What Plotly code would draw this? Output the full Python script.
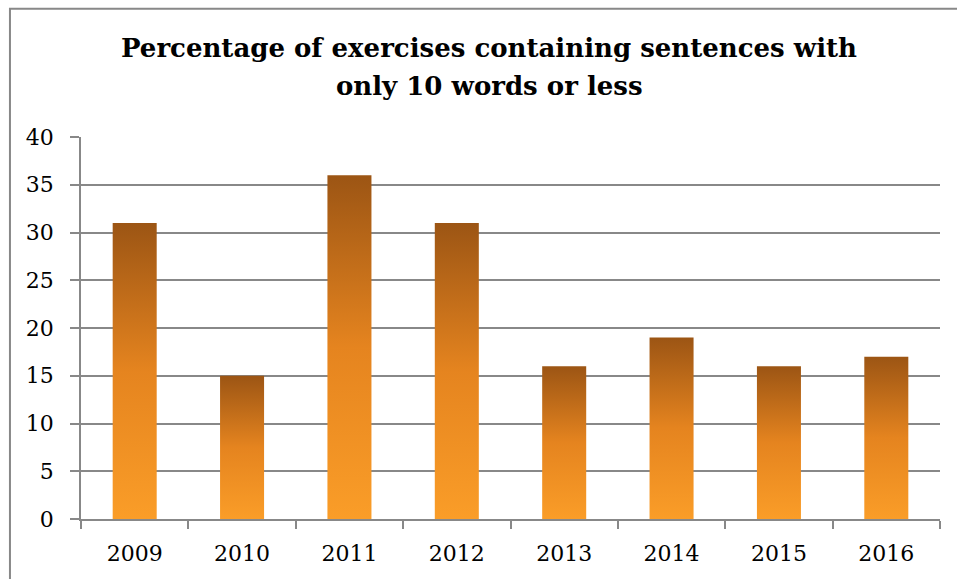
import plotly.graph_objects as go

# Share of exercises whose sentences are all 10 words or shorter, per year
years = ["2009", "2010", "2011", "2012", "2013", "2014", "2015", "2016"]
percent = [31, 15, 36, 31, 16, 19, 16, 17]

y_ticks = [0, 5, 10, 15, 20, 25, 30, 35, 40]

title_lines = ["Percentage of exercises containing sentences with",
               "only 10 words or less"]

BAR_WIDTH = 0.41
GRID = "#888888"
FONT = "DejaVu Serif"
bar_scale = [[0.0, "#FA9D28"], [0.5, "#E5841F"], [1.0, "#9C5514"]]

fig = go.Figure()

# Each bar is a filled polygon so it can carry its own vertical gradient
for i, (yr, v) in enumerate(zip(years, percent)):
    x0, x1 = i - BAR_WIDTH / 2, i + BAR_WIDTH / 2
    fig.add_trace(go.Scatter(
        x=[x0, x0, x1, x1, x0],
        y=[0, v, v, 0, 0],
        mode="lines",
        fill="toself",
        line=dict(width=0),
        fillgradient=dict(type="vertical", colorscale=bar_scale),
        name=yr,
        hoverinfo="text",
        text=f"{yr}: {v}",
        showlegend=False,
    ))

# Two-line bold title, each line placed on its own
title_annotations = [
    dict(text=f"<b>{line}</b>", xref="paper", yref="paper", x=0.475, y=ypos,
         xanchor="center", yanchor="middle", showarrow=False,
         font=dict(family=FONT, size=26, color="#000000"))
    for line, ypos in zip(title_lines, [1.233, 1.1335])
]

fig.update_layout(
    width=957, height=579,
    margin=dict(l=81, r=17, t=137, b=60),
    paper_bgcolor="white", plot_bgcolor="white",
    font=dict(family=FONT, color="#000000", size=22),
    showlegend=False,
    annotations=title_annotations,
    shapes=[dict(
        type="rect", xref="paper", yref="paper",
        x0=-0.0827, x1=1.2, y0=-0.4, y1=1.336,
        line=dict(color=GRID, width=2), fillcolor="rgba(0,0,0,0)", layer="below",
    )],
)

fig.update_xaxes(
    range=[-0.5, len(years) - 0.5],
    tickvals=list(range(len(years))), ticktext=years,
    ticks="", showgrid=False, zeroline=False,
    showline=True, linecolor=GRID, linewidth=1.5,
    ticklabelstandoff=14,
    minor=dict(ticks="outside", tick0=-0.5, dtick=1, ticklen=8,
               tickcolor=GRID, tickwidth=1.5, showgrid=False),
    tickfont=dict(family=FONT, size=22),
)
fig.update_yaxes(
    range=[0, 40], tickvals=y_ticks,
    showgrid=True, gridcolor=GRID, gridwidth=1.5,
    zeroline=False, showline=True, linecolor=GRID, linewidth=1.5,
    ticks="outside", ticklen=9, tickcolor=GRID, tickwidth=1.5,
    ticklabelstandoff=12,
    tickfont=dict(family=FONT, size=22),
)

fig.write_html("out.html")
